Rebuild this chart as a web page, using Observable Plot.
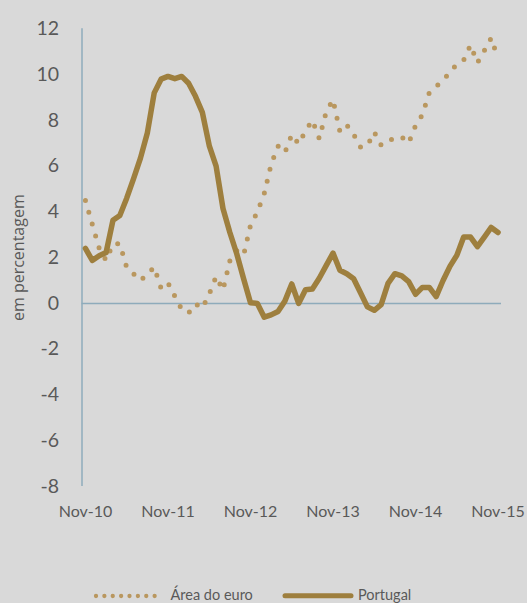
<!DOCTYPE html>
<html><head><meta charset="utf-8">
<script src="https://cdn.jsdelivr.net/npm/d3@7"></script>
<script src="https://cdn.jsdelivr.net/npm/@observablehq/plot@0.6"></script>
<style>
html,body{margin:0;padding:0;background:#d9d9d9;}
#wrap{position:relative;width:527px;height:603px;overflow:hidden;font-family:Lato,sans-serif;}
#wrap svg{display:block;}
</style></head><body><div id="wrap"></div>
<script>
const seriesNames = ["Área do euro", "Portugal"];
const tickLabels = ["Nov-10","Nov-11","Nov-12","Nov-13","Nov-14","Nov-15"];
const yTicks = [-8,-6,-4,-2,0,2,4,6,8,10,12];
const yTitle = "em percentagem";
// Área do euro (monthly, Nov-10 .. Nov-15)
const euro = [4.50,3.45,2.41,1.88,2.59,2.61,1.57,1.29,1.00,1.27,1.59,0.66,
  0.90,0.31,-0.26,-0.42,-0.02,-0.21,0.41,1.18,0.58,1.86,2.30,2.11,
  3.41,4.00,4.80,6.08,6.87,6.59,7.38,6.97,7.54,8.00,7.20,8.36,
  8.90,7.51,7.80,7.39,6.83,6.89,7.49,6.91,7.07,7.25,7.27,7.01,
  7.77,8.25,9.21,9.48,9.75,10.10,10.46,10.63,11.29,10.52,11.05,11.60,10.68];
// Portugal
const portugal = [2.40,1.88,2.08,2.22,3.63,3.84,4.60,5.45,6.35,7.45,9.20,9.80,
  9.92,9.82,9.92,9.62,9.05,8.35,6.90,6.00,4.15,3.10,2.17,1.08,
  0.03,0.00,-0.60,-0.50,-0.35,0.10,0.85,0.00,0.60,0.63,1.10,1.65,
  2.20,1.45,1.30,1.08,0.47,-0.15,-0.30,-0.05,0.88,1.30,1.20,0.95,
  0.40,0.70,0.70,0.30,1.00,1.62,2.10,2.90,2.90,2.48,2.90,3.32,3.10];

const months = d3.utcMonth.range(new Date(Date.UTC(2010,10,1)), new Date(Date.UTC(2015,11,1))).map(d3.utcFormat("%b-%y"));
const data = months.map((m,i)=>({i, month:m, euro:euro[i], portugal:portugal[i]}));
const tickIdx = tickLabels.map(t => months.indexOf(t));

const cEuro = "#b9975f", cPt = "#9e7f3e", cAxis = "#8eabbb", cText = "#595959";

const chart = Plot.plot({
  width: 527, height: 560,
  marginLeft: 81.5, marginRight: 26, marginTop: 28.3, marginBottom: 74,
  style: {background: "transparent", fontFamily: "Lato, sans-serif", color: cText, overflow: "visible"},
  x: {domain: [-0.5, 60.5]},
  y: {domain: [-8, 12]},
  marks: [
    Plot.axisY({ticks: yTicks, tickSize: 0, tickPadding: 23, tickFormat: d => String(d), fontSize: 19.5, fill: cText, label: null}),
    Plot.axisX({ticks: tickIdx, tickSize: 0, tickPadding: 19, tickFormat: i => months[i], fontSize: 16, fill: cText, label: null}),
    Plot.ruleY([0], {x1: -0.5, x2: 60.5, stroke: cAxis, strokeWidth: 1.5}),
    Plot.ruleX([-0.5], {y1: -8, y2: 12, stroke: cAxis, strokeWidth: 1.5}),
    Plot.line(data, {x: "i", y: "euro", stroke: cEuro, strokeWidth: 5, strokeDasharray: "0 12.3", strokeLinecap: "round"}),
    Plot.line(data, {x: "i", y: "portugal", stroke: cPt, strokeWidth: 5.5, strokeLinejoin: "round", strokeLinecap: "round"}),
    Plot.text([yTitle], {y: () => 2, text: d => d, frameAnchor: "left", textAnchor: "middle", dx: -63.5, rotate: -90, fontSize: 16, fontFamily: "Open Sans, sans-serif", fill: cText})
  ]
});
const wrap = document.getElementById("wrap");
wrap.appendChild(chart);

const ns = "http://www.w3.org/2000/svg";
const leg = document.createElementNS(ns, "svg");
leg.setAttribute("width", 527); leg.setAttribute("height", 43);
leg.style.position = "absolute"; leg.style.left = "0px"; leg.style.top = "560px";
leg.innerHTML = `
 <line x1="96" x2="163" y1="36" y2="36" stroke="${cEuro}" stroke-width="4.3" stroke-dasharray="0 8.375" stroke-linecap="round"/>
 <text x="170.5" y="39.5" font-size="14.5" fill="${cText}" font-family="Lato, sans-serif">${seriesNames[0]}</text>
 <line x1="285" x2="351" y1="35.7" y2="35.7" stroke="${cPt}" stroke-width="5" stroke-linecap="round"/>
 <text x="358" y="39.5" font-size="14.5" fill="${cText}" font-family="Lato, sans-serif">${seriesNames[1]}</text>`;
wrap.appendChild(leg);
</script></body></html>
